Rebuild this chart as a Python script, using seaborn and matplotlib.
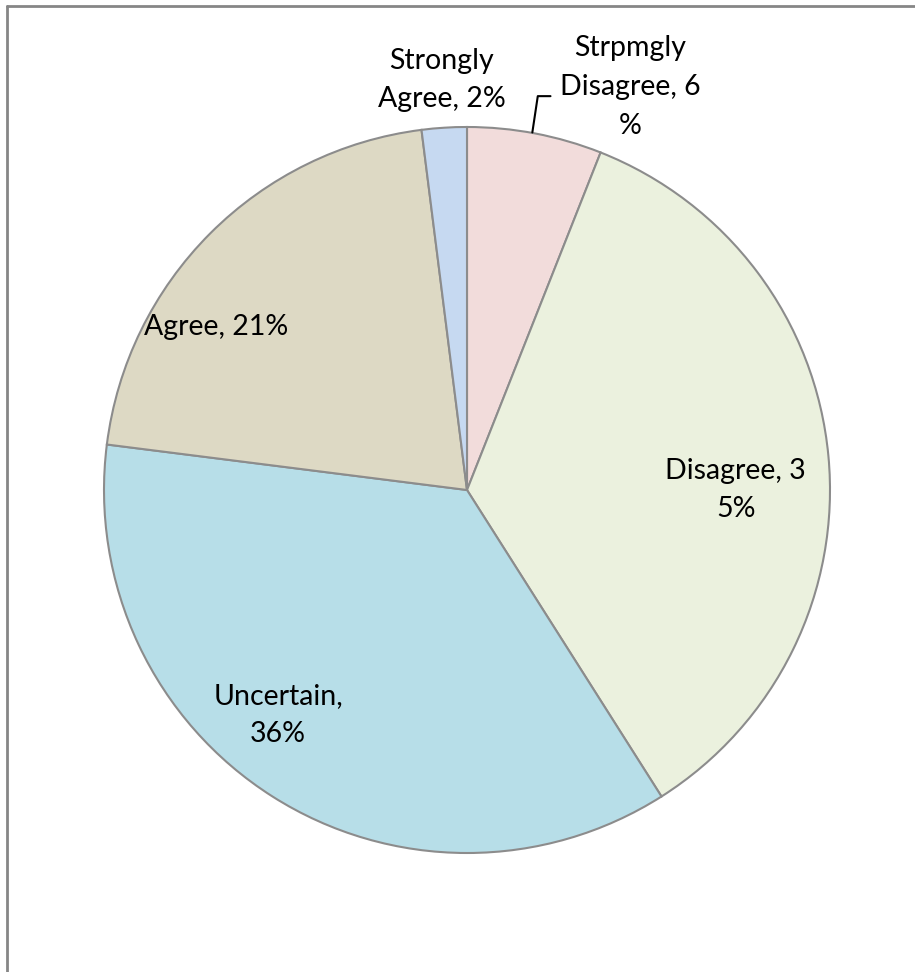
import matplotlib
matplotlib.use("Agg")
import matplotlib.pyplot as plt
import seaborn as sns
import numpy as np
from matplotlib.lines import Line2D

sns.set_theme(style="white")
plt.rcParams['font.family'] = ['Lato', 'DejaVu Sans']

categories = ["Strpmgly Disagree", "Disagree", "Uncertain", "Agree", "Strongly Agree"]
values = [6, 35, 36, 21, 2]
label_texts = ["Strpmgly\nDisagree, 6\n%", "Disagree, 3\n5%", "Uncertain,\n36%", "Agree, 21%", "Strongly\nAgree, 2%"]
colors = ["#f2dcdb", "#ebf1de", "#b7dee8", "#ddd9c4", "#c6d9f1"]

W, H = 915, 972
fig = plt.figure(figsize=(W / 100, H / 100), dpi=100)
ax = fig.add_axes([0, 0, 1, 1])
cx, cy, R = 467, 490, 363

wedges, _ = ax.pie(values, colors=colors, startangle=90, counterclock=False,
                   radius=1.0, center=(0, 0),
                   wedgeprops=dict(edgecolor="#8c8c8c", linewidth=1.5))
ax.set_xlim(-cx / R, (W - cx) / R)
ax.set_ylim(-(H - cy) / R, cy / R)
ax.set_aspect('auto')
ax.axis('off')

# label placement (relative positions, radius units)
label_pos = [(0.45, 1.11), (0.74, 0.0), (-0.52, -0.62), (-0.69, 0.45), (-0.07, 1.13)]
for txt, (x, y) in zip(label_texts, label_pos):
    ax.text(x, y, txt, ha='center', va='center', fontsize=20.5, color='#000000',
            linespacing=1.6)

# leader line for the small slice
ax.plot([0.18, 0.195, 0.23], [0.985, 1.085, 1.085], color='black', lw=1.5)

# frame lines (partial border)
fig.add_artist(Line2D([7 / W, 1], [1 - 6 / H, 1 - 6 / H], color='#868686', lw=2))
fig.add_artist(Line2D([7 / W, 7 / W], [0, 1 - 6 / H], color='#868686', lw=2))

fig.savefig("out.png", dpi=100)
